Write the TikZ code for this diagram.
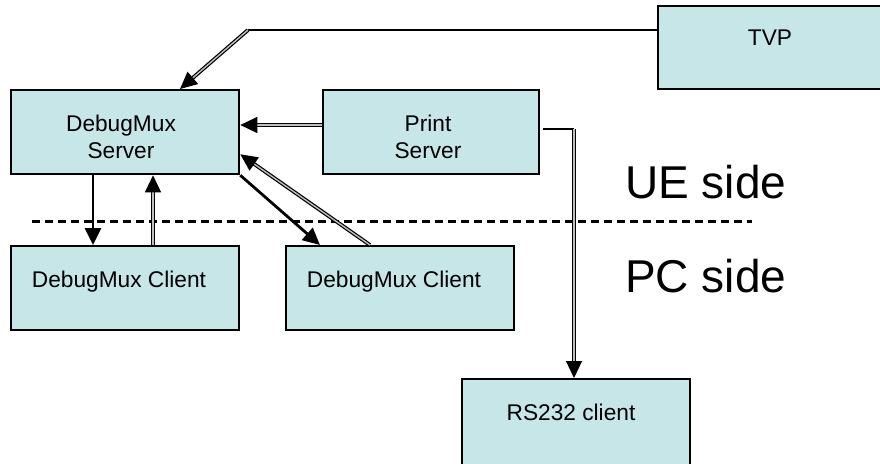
\documentclass[tikz,border=0pt]{standalone}
\usepackage{fontspec}
\setmainfont{Liberation Sans}
\usetikzlibrary{arrows.meta,calc}
\definecolor{boxfill}{RGB}{198,230,232}
\tikzset{
  box/.style={draw=black, line width=2.3pt, fill=boxfill, rectangle,
    inner sep=0pt, anchor=north west, minimum height=84pt},
  lbl/.style={font=\fontsize{22.7}{27}\selectfont, align=center, inner sep=0pt, anchor=base},
  side/.style={font=\fontsize{46}{50}\selectfont, inner sep=0pt, anchor=base west},
  tip/.style={-{Triangle[length=17pt,width=16pt]}},
  solidarrow/.style={tip, line width=2.8pt},
  dblarrow/.style={tip, line width=1.2pt, double=gray!50, double distance=1.4pt},
  thinline/.style={line width=1.8pt},
  sep/.style={line width=3pt, dash pattern=on 8pt off 5pt},
}
\begin{document}
\begin{tikzpicture}[x=1pt, y=-1pt]
  \useasboundingbox (0,0) rectangle (880,463);

  % boxes
  \node[box, minimum width=228pt] (srv) at (10,89) {};
  \node[box, minimum width=216pt] (prt) at (322,89) {};
  \node[box, minimum width=228pt, minimum height=83pt] (tvp) at (657,5) {};
  \node[box, minimum width=228pt] (cl1) at (10,245) {};
  \node[box, minimum width=228pt] (cl2) at (285,245) {};
  \node[box, minimum width=228pt, minimum height=95pt] (rs) at (461,378) {};

  % box texts (base anchor = baseline of the last line)
  \node[lbl] (srv-t) at (121,158) {DebugMux\\Server};
  \node[lbl] (prt-t) at (428,158) {Print\\Server};
  \node[lbl] (tvp-t) at (770,45) {TVP};
  \node[lbl] (cl1-t) at (119,287) {DebugMux Client};
  \node[lbl] (cl2-t) at (394,287) {DebugMux Client};
  \node[lbl] (rs-t) at (571,420) {RS232 client};

  % UE / PC separator
  \coordinate (sepl) at (32,221);
  \coordinate (sepr) at (752,221);
  \draw[sep] (sepl) -- (sepr);
  \node[side] (ue) at (625,198) {UE side};
  \node[side] (pc) at (625,292) {PC side};

  % TVP -> server
  \coordinate (tvpbend) at (248,30);
  \draw[thinline] ($(tvp.north west)+(0,25)$) -- (tvpbend);
  \draw[dblarrow] (tvpbend) -- ($(srv.north west)+(170,0)$);

  % print server -> server
  \draw[dblarrow] ($(prt.north west)+(0,36)$) -- ($(srv.north east)+(0,36)$);

  % server <-> client 1
  \draw[solidarrow] ($(srv.south west)+(83,0)$) -- ($(cl1.north west)+(83,0)$);
  \draw[dblarrow] ($(cl1.north west)+(143,0)$) -- ($(srv.south west)+(143,0)$);

  % server <-> client 2
  \draw[solidarrow] (srv.south east) -- ($(cl2.north west)+(35,0)$);
  \draw[dblarrow] ($(cl2.north west)+(85,0)$) -- ($(srv.south east)+(0,-21)$);

  % print server -> RS232 client
  \coordinate (rsbend) at (574,129);
  \draw[thinline] ($(prt.north east)+(3,40)$) -- (rsbend);
  \draw[dblarrow] (rsbend) -- (rs.north -| rsbend);
\end{tikzpicture}
\end{document}
